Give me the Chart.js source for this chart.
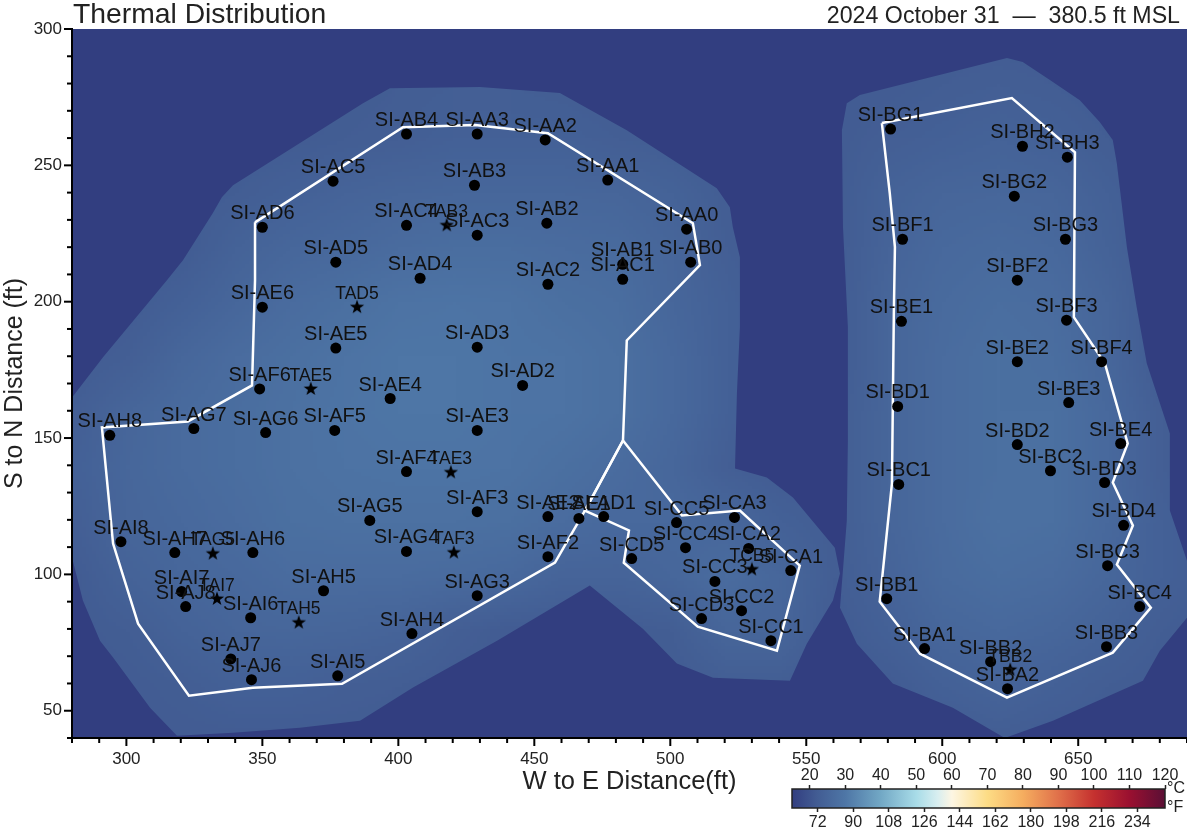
<!DOCTYPE html>
<html>
<head>
<meta charset="utf-8">
<title>Thermal Distribution</title>
<style>
    html, body { margin: 0; padding: 0; background: #fff; overflow: hidden; }
    #wrap { position: relative; width: 1187px; height: 833px; }
    #mainChart { position: absolute; left: 0; top: 0; }
    #barChart { position: absolute; left: 770px; top: 762px; }
</style>
</head>
<body>
<div id="wrap">
    <canvas id="mainChart" width="1187" height="833"></canvas>
    <canvas id="barChart" width="417" height="71"></canvas>
</div>

<script src="https://cdn.jsdelivr.net/npm/chart.js"></script>
<script>
    // sensors (ft)
    const sensorNames = ["SI-AA0","SI-AA1","SI-AA2","SI-AA3","SI-AB4","SI-AB3","SI-AB2","SI-AB1","SI-AC1","SI-AB0","SI-AC2","SI-AC3","SI-AC4","SI-AC5","SI-AD6","SI-AD5","SI-AD4","SI-AD3","SI-AD2","SI-AD1","SI-AE6","SI-AE5","SI-AE4","SI-AE3","SI-AE2","SI-AE1","SI-AF6","SI-AF5","SI-AF4","SI-AF3","SI-AF2","SI-AG7","SI-AG6","SI-AG5","SI-AG4","SI-AG3","SI-AH8","SI-AH7","SI-AH6","SI-AH5","SI-AH4","SI-AI8","SI-AI7","SI-AJ8","SI-AI6","SI-AJ7","SI-AJ6","SI-AI5","SI-CA3","SI-CC5","SI-CC4","SI-CA2","SI-CA1","SI-CD5","SI-CC3","SI-CC2","SI-CD3","SI-CC1","SI-BG1","SI-BH2","SI-BH3","SI-BG2","SI-BG3","SI-BF1","SI-BF2","SI-BF3","SI-BE1","SI-BE2","SI-BF4","SI-BE3","SI-BD1","SI-BD2","SI-BE4","SI-BC2","SI-BD3","SI-BC1","SI-BD4","SI-BC3","SI-BB1","SI-BC4","SI-BB3","SI-BA1","SI-BB2","SI-BA2"];
    const sensorX = [506,477,454,429,403,428,454.6,482.5,482.5,507.5,455,429,403,376,350,377,408,429,445.7,475.5,350,377,397,429,455,466.4,349,376.6,403,429,455,324.8,351.2,389.5,403,429,293.9,317.8,346.5,372.5,405,298,320.3,321.8,345.7,338.4,346,377.7,523.6,502.3,505.6,528.8,544.3,485.8,516.4,526.2,511.5,537,581,629.5,646,626.5,645.3,585.4,627.6,645.7,585,627.6,658.6,646.5,583.6,627.6,665.6,639.8,659.7,584,666.7,660.8,579.6,672.6,660.4,593.5,617.8,624];
    const sensorY = [226.6,244.6,259.3,261.5,261.5,242.7,228.8,213.7,208.2,214.5,206.4,224.4,228,244.2,227.3,214.5,208.6,183.3,169.3,121.2,198,183,164.5,152.8,121.2,120.5,168,152.8,137.7,123,106.5,153.5,152,119.8,108.4,92.2,151,108,108,94,78.3,112,93.7,88.2,84.1,69,61.4,62.8,120.9,119,109.8,109.5,101.4,105.8,97.4,86.7,83.8,75.7,263.3,257,253,238.7,222.9,222.9,207.9,193.2,192.8,178,178,163,161.6,147.6,148,138,133.7,133,118,103.2,91.1,88.2,73.5,72.8,68,58.1];

    // thermocouple trees
    const treeNames = ["TAD5","TAB3","TAE5","TAE3","TAF3","TAG5","TAI7","TAH5","TCB5","TBB2"];
    const treeX = [384.8,417.8,367.8,419.3,420.4,331.8,333.3,363.4,530,625];
    const treeY = [198,228,168,137.4,108,107.6,91,82.3,101.8,65];

    // white pile outlines
    const mainPileX = [347.3,401.7,428.2,455,508.3,510.9,484,482.6,468.6,457.6,379.3,346.5,323,304.3,295.1,291,322.6,346.2,347.3,347.3];
    const mainPileY = [229.1,264,264.8,261.8,228.8,213.4,185.8,149.1,123.4,104.3,59.9,58.4,55.5,81.9,111.3,153.9,156.1,169.3,207.9,229.1];
    const smallPileX = [482.6,504.3,525.6,547.6,539.2,510.1,482.9,484.8,468.6,482.6];
    const smallPileY = [149.1,121.6,123.4,103.2,72,80.8,104.3,116.1,123.4,149.1];
    const rightPileX = [577.8,625.6,648.8,648.4,659.8,668.2,662.7,670.1,664.2,676.7,662.7,623.8,591.8,577,581.5,582.2,582.6,580.7,577.8];
    const rightPileY = [265.5,274.7,254.8,194.3,177.4,148,133.7,117.9,103.6,87.8,71.3,54.8,70.9,90,133.3,195.7,220,239.8,265.5];

    // edge of the heated field
    const mainFieldX = [280,291.4,314.9,320.8,331.8,335.1,339.2,387,396.9,430,459.4,484,517.1,521.9,523,525.6,525.6,524.5,523.8,535.5,545.1,560.5,562.4,559.8,550.2,544,515.7,502.4,489.9,470.4,436.3,405.4,385.9,363.8,339.2,318.6,308.7,295.1,290.3,284,280];
    const mainFieldY = [164.9,179.6,207.9,215.2,232.5,238.3,242.7,272.8,278.3,278.7,276.5,262.9,241.6,234.6,227.3,216.3,190.6,166.3,138.8,135.5,128.2,109.8,100.3,90.4,74.6,61,62.1,67.3,80.1,95.9,75.7,58.5,46.3,43.8,41.9,40.8,51.1,69.5,75.7,90.4,106.2];
    const rightFieldX = [623.8,629.6,639.6,650.6,657.9,662.7,664.2,667.9,671.5,675.2,683.7,683.7,690,690,680,673.8,640.7,623,603.9,581.8,568.6,562.4,564.9,565.3,565.3,563.5,563.1,564.9,569.7];
    const rightFieldY = [289.4,287.9,281.3,273.9,265.9,259.3,250.8,220,198,177.4,151.7,123.4,105,84.1,72,61,46.3,40,51.1,60,74.6,87.8,119.7,149.1,190.6,227.3,262.9,272.8,275.8];

    // temperature (C), rows top to bottom
    const heatX = [280,300,320,340,360,380,400,420,440,460,480,500,520,540,560,580,600,620,640,660,680,700];
    const heatY = [300,280,260,240,220,200,180,160,140,120,100,80,60,40];
    const heatValues = [
        [22,22,22,22,22,22,22,22,22,22,22,22,22,22,22,22,22,22,22,22,22,22],
        [22,22,22,22,22,22,22.5,23,23,22.5,22,22,22,22,22,22,22.5,23,22.5,22,22,22],
        [22,22,22,22,22,22.5,23,23.5,23.5,23.5,23,22.5,22,22,22,23,23.5,24,23.5,22.5,22,22],
        [22,22,22,22.5,23.5,24.5,25,25.5,25.5,25.5,25,24,22.5,22,22,24,25,25.5,25,23.5,22,22],
        [22,22,22,24,25.5,26,27,27.5,27.5,27,26.5,25,23,22,22,24.5,26,26.5,26,24,22,22],
        [22,22,23.5,25.5,27,28,29,29.5,29,28,27.5,25.5,23.5,22,22,25,26.5,27.5,27,25,22,22],
        [22,23,25.5,27,28,29,30,30,29.5,29,28,26,23.5,22,22,25,27,28,27.5,25.5,22,22],
        [23,25,26.5,27.5,28.5,29.5,30,30,29.5,29,28,26,23.5,22,22.5,25,27,28,28,26,23,22],
        [23.5,25.5,26.5,27.5,28.5,29,29.5,29.5,29,28,27,25.5,23,22,22.5,25,27,28,28,26,23,22],
        [23,25,26,27,28,28.5,28.5,28.5,28,27,26,26,25.5,23.5,22.5,25,27,28.5,28,26,23.5,22],
        [22,24,25.5,26,27,27,27,26.5,26,24.5,24.5,25.5,27,25.5,22.5,24.5,26.5,27.5,27,25.5,23.5,22],
        [22,22.5,24,25,25.5,25,24.5,23,22,22,22,22.5,25,25,22,23.5,25.5,26,25.5,24,22.5,22],
        [22,22,22.5,23.5,23.5,23,22.5,22,22,22,22,22,22.5,22.5,22,22,23.5,24.5,23.5,22.5,22,22],
        [22,22,22,22,22,22,22,22,22,22,22,22,22,22,22,22,22,22.5,22,22,22,22]
    ];

    // colour bar
    const cmapTemps = [15,22,30,40,50,56,60,70,80,90,100,110,120];
    const cmapColors = ["#323e80","#425c93","#4e76a6","#72a8c5","#a8dce8","#d8eef0","#fdf6e3","#fddc85","#f5ad5f","#e0704a","#c5312f","#9a1030","#5a0f35"];
    const celsiusTicks = [20,30,40,50,60,70,80,90,100,110,120];
    const fahrenheitTicks = [72,90,108,126,144,162,180,198,216,234];

    const fontName = "'Liberation Sans', Arial, sans-serif";
    const inkColor = "#222";
    Chart.defaults.font.family = fontName;
    Chart.defaults.color = inkColor;
    Chart.defaults.animation = false;

    function hexToRgb(h) {
        return [parseInt(h.slice(1, 3), 16), parseInt(h.slice(3, 5), 16), parseInt(h.slice(5, 7), 16)];
    }
    function tempColor(t) {
        let i = 0;
        while (i < cmapTemps.length - 2 && t > cmapTemps[i + 1]) i++;
        const f = Math.max(0, Math.min(1, (t - cmapTemps[i]) / (cmapTemps[i + 1] - cmapTemps[i])));
        const a = hexToRgb(cmapColors[i]), b = hexToRgb(cmapColors[i + 1]);
        return `rgb(${a.map((v, k) => Math.round(v + (b[k] - v) * f)).join(",")})`;
    }
    const zip = (xs, ys) => xs.map((x, i) => ({ x, y: ys[i] }));

    // heat grid as a tiny bitmap, the canvas smooths it when stretched onto the scales
    const heatBitmap = document.createElement("canvas");
    heatBitmap.width = heatX.length;
    heatBitmap.height = heatY.length;
    const heatCtx = heatBitmap.getContext("2d");
    heatValues.forEach((row, r) => row.forEach((t, c) => {
        heatCtx.fillStyle = tempColor(t);
        heatCtx.fillRect(c, r, 1, 1);
    }));

    // filled five point star for the trees
    const starMark = document.createElement("canvas");
    starMark.width = starMark.height = 16;
    const starCtx = starMark.getContext("2d");
    starCtx.fillStyle = "#000";
    starCtx.beginPath();
    for (let i = 0; i < 10; i++) {
        const r = i % 2 ? 3 : 7.5, a = -Math.PI / 2 + i * Math.PI / 5;
        starCtx.lineTo(8 + r * Math.cos(a), 8 + r * Math.sin(a));
    }
    starCtx.closePath();
    starCtx.fill();

    const heatField = {
        id: "heatField",
        beforeDatasetsDraw(chart) {
            const { ctx, chartArea: a, scales: { x, y } } = chart;
            ctx.save();
            ctx.beginPath();
            ctx.rect(a.left, a.top, a.right - a.left, a.bottom - a.top);
            ctx.clip();
            ctx.fillStyle = cmapColors[0];
            ctx.fillRect(a.left, a.top, a.right - a.left, a.bottom - a.top);
            ctx.beginPath();
            [[mainFieldX, mainFieldY], [rightFieldX, rightFieldY]].forEach(([px, py]) => {
                px.forEach((v, i) => {
                    const X = x.getPixelForValue(v), Y = y.getPixelForValue(py[i]);
                    if (i === 0) ctx.moveTo(X, Y); else ctx.lineTo(X, Y);
                });
                ctx.closePath();
            });
            ctx.clip();
            const left = x.getPixelForValue(heatX[0] - 10), right = x.getPixelForValue(heatX[heatX.length - 1] + 10);
            const top = y.getPixelForValue(heatY[0] + 10), bottom = y.getPixelForValue(heatY[heatY.length - 1] - 10);
            ctx.imageSmoothingEnabled = true;
            ctx.drawImage(heatBitmap, left, top, right - left, bottom - top);
            ctx.restore();
        }
    };

    const tickMarks = {
        id: "tickMarks",
        afterDraw(chart) {
            const { ctx, chartArea: a, scales: { x, y } } = chart;
            ctx.save();
            ctx.strokeStyle = "#000";
            ctx.lineWidth = 2;
            x.ticks.forEach(t => {
                const p = x.getPixelForValue(t.value), len = t.value % 50 === 0 ? 8 : 5;
                ctx.beginPath(); ctx.moveTo(p, a.bottom); ctx.lineTo(p, a.bottom + len); ctx.stroke();
            });
            y.ticks.forEach(t => {
                const p = y.getPixelForValue(t.value), len = t.value % 50 === 0 ? 8 : 5;
                ctx.beginPath(); ctx.moveTo(a.left, p); ctx.lineTo(a.left - len, p); ctx.stroke();
            });
            ctx.restore();
        }
    };

    const markLabels = {
        id: "markLabels",
        afterDraw(chart) {
            const { ctx, scales: { x, y } } = chart;
            ctx.save();
            ctx.fillStyle = "#111";
            ctx.textAlign = "center";
            ctx.textBaseline = "middle";
            ctx.font = `20px ${fontName}`;
            sensorNames.forEach((n, i) => ctx.fillText(n, x.getPixelForValue(sensorX[i]), y.getPixelForValue(sensorY[i]) - 13.5));
            ctx.font = `17.5px ${fontName}`;
            treeNames.forEach((n, i) => ctx.fillText(n, x.getPixelForValue(treeX[i]), y.getPixelForValue(treeY[i]) - 13));
            ctx.fillStyle = inkColor;
            ctx.textBaseline = "alphabetic";
            ctx.textAlign = "left";
            ctx.font = `28.3px ${fontName}`;
            ctx.fillText("Thermal Distribution", 73, 23);
            ctx.textAlign = "right";
            ctx.font = `23.2px ${fontName}`;
            ctx.fillText("2024 October 31  \u2014  380.5 ft MSL", 1180, 23);
            ctx.restore();
        }
    };

    const outline = (px, py) => ({
        type: "scatter", data: zip(px, py), showLine: true, tension: 0,
        borderColor: "#fff", borderWidth: 2.5, pointRadius: 0, fill: false
    });

    new Chart(document.getElementById("mainChart"), {
        type: "scatter",
        data: {
            datasets: [
                { label: "Sensors", data: zip(sensorX, sensorY), pointStyle: "circle", pointRadius: 5.5, backgroundColor: "#000", borderWidth: 0 },
                { label: "Trees", data: zip(treeX, treeY), pointStyle: starMark, pointRadius: 8 },
                outline(mainPileX, mainPileY),
                outline(smallPileX, smallPileY),
                outline(rightPileX, rightPileY)
            ]
        },
        options: {
            responsive: false,
            layout: { autoPadding: false, padding: { top: 29, right: 0, left: 0, bottom: 32 } },
            plugins: { legend: { display: false }, tooltip: { enabled: false } },
            scales: {
                x: {
                    type: "linear", min: 280, max: 690,
                    afterFit: s => { s.height = 63; s.paddingRight = 0; s.paddingLeft = 0; },
                    border: { display: true, color: "#000", width: 2, z: 1 },
                    grid: { drawOnChartArea: false, drawTicks: false },
                    ticks: { stepSize: 10, autoSkip: false, maxRotation: 0, padding: 11, font: { size: 17 }, callback: v => (v % 50 === 0 ? v : "") },
                    title: { display: true, text: "W to E Distance(ft)", font: { size: 25.5 }, padding: { top: 3 } }
                },
                y: {
                    type: "linear", min: 40, max: 300,
                    afterFit: s => { s.width = 72; },
                    border: { display: true, color: "#000", width: 2, z: 1 },
                    grid: { drawOnChartArea: false, drawTicks: false },
                    ticks: { stepSize: 10, autoSkip: false, padding: 10, font: { size: 17 }, callback: v => (v % 50 === 0 ? v : "") },
                    title: { display: true, text: "S to N Distance (ft)", font: { size: 25 }, padding: { top: 0, bottom: 0 } }
                }
            }
        },
        plugins: [heatField, tickMarks, markLabels]
    });

    const barFill = {
        id: "barFill",
        beforeDatasetsDraw(chart) {
            const { ctx, chartArea: a, scales: { x } } = chart;
            const grad = ctx.createLinearGradient(a.left, 0, a.right, 0);
            cmapTemps.forEach((t, i) => {
                grad.addColorStop((x.getPixelForValue(t) - a.left) / (a.right - a.left), cmapColors[i]);
            });
            ctx.save();
            ctx.fillStyle = grad;
            ctx.fillRect(a.left, a.top, a.right - a.left, a.bottom - a.top);
            ctx.strokeStyle = "#222";
            ctx.lineWidth = 1.5;
            ctx.strokeRect(a.left, a.top, a.right - a.left, a.bottom - a.top);
            ctx.fillStyle = inkColor;
            ctx.font = `16px ${fontName}`;
            ctx.textAlign = "left";
            ctx.textBaseline = "middle";
            ctx.fillText("\u00b0C", a.right + 2, a.top);
            ctx.fillText("\u00b0F", a.right + 2, a.bottom);
            ctx.restore();
        }
    };

    new Chart(document.getElementById("barChart"), {
        type: "scatter",
        data: { datasets: [] },
        options: {
            responsive: false,
            layout: { padding: { left: 22, right: 22, top: 0, bottom: 0 } },
            plugins: { legend: { display: false }, tooltip: { enabled: false } },
            scales: {
                x: {
                    type: "linear", position: "top", min: 15, max: 120,
                    afterFit: s => { s.height = 27; s.paddingLeft = 0; s.paddingRight = 0; },
                    afterBuildTicks: s => { s.ticks = celsiusTicks.map(value => ({ value })); },
                    border: { display: false },
                    grid: { drawOnChartArea: false, tickLength: 4, tickColor: "#222", tickWidth: 1.5 },
                    ticks: { autoSkip: false, maxRotation: 0, padding: 0, font: { size: 16 } }
                },
                x2: {
                    type: "linear", position: "bottom", min: 59, max: 248,
                    afterFit: s => { s.height = 25; s.paddingLeft = 0; s.paddingRight = 0; },
                    afterBuildTicks: s => { s.ticks = fahrenheitTicks.map(value => ({ value })); },
                    border: { display: false },
                    grid: { drawOnChartArea: false, tickLength: 4, tickColor: "#222", tickWidth: 1.5 },
                    ticks: { autoSkip: false, maxRotation: 0, padding: 1, font: { size: 16 } }
                },
                y: { display: false }
            }
        },
        plugins: [barFill]
    });
</script>
</body>
</html>
